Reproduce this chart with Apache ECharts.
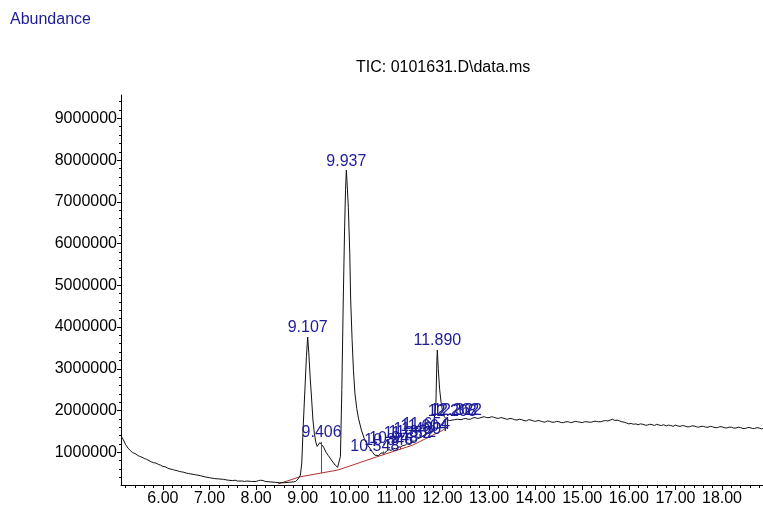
<!DOCTYPE html>
<html>
<head>
<meta charset="utf-8">
<script src="https://cdn.jsdelivr.net/npm/echarts@6/dist/echarts.min.js"></script>
<style>
  html, body { margin: 0; padding: 0; background: #fff; }
  #chart { width: 763px; height: 507px; }
</style>
</head>
<body>
<div id="chart"></div>
<script>
// Total ion chromatogram: retention time (min) vs abundance (millions of counts)
const retentionTime = [
  5.12, 5.15, 5.20, 5.25, 5.30, 5.35, 5.40, 5.45, 5.50, 5.55, 5.60, 5.65, 5.70, 5.75, 5.80, 5.85, 5.90, 5.95,
  6.00, 6.05, 6.10, 6.15, 6.20, 6.25, 6.30, 6.35, 6.40, 6.45, 6.50, 6.55, 6.60, 6.70, 6.80, 6.90,
  7.00, 7.10, 7.20, 7.30, 7.40, 7.50, 7.55, 7.60, 7.70, 7.75, 7.80, 7.90,
  8.00, 8.05, 8.10, 8.15, 8.20, 8.30, 8.40, 8.50, 8.60, 8.70, 8.80, 8.85, 8.90, 8.95, 8.98,
  9.01, 9.05, 9.08, 9.107, 9.13, 9.16, 9.19, 9.22, 9.25, 9.28, 9.31, 9.34, 9.37, 9.406, 9.45,
  9.50, 9.55, 9.60, 9.65, 9.70, 9.75, 9.78, 9.81, 9.84, 9.87, 9.90, 9.92, 9.937, 9.95, 9.98,
  10.01, 10.03, 10.06, 10.09, 10.12, 10.16, 10.20, 10.26, 10.33, 10.40, 10.44, 10.50, 10.548, 10.59,
  10.63, 10.68, 10.72, 10.76, 10.80, 10.846, 10.90, 10.948,
  11.00, 11.05, 11.10, 11.15, 11.20, 11.252, 11.30, 11.352, 11.40, 11.460, 11.50, 11.55, 11.604, 11.654,
  11.70, 11.75, 11.80, 11.84, 11.86, 11.88, 11.890, 11.91, 11.94, 11.97,
  12.00, 12.04, 12.10, 12.15, 12.208, 12.262, 12.322,
  12.40, 12.45, 12.50, 12.55, 12.60, 12.65, 12.70, 12.75, 12.80, 12.85, 12.90, 12.95,
  13.00, 13.05, 13.10, 13.15, 13.20, 13.25, 13.30, 13.35, 13.40, 13.45, 13.50, 13.55, 13.60, 13.65, 13.70, 13.75, 13.80, 13.85, 13.90, 13.95,
  14.00, 14.05, 14.10, 14.15, 14.20, 14.25, 14.30, 14.35, 14.40, 14.45, 14.50, 14.55, 14.60, 14.65, 14.70, 14.75, 14.80, 14.85, 14.90, 14.95,
  15.00, 15.05, 15.10, 15.15, 15.20, 15.25, 15.30, 15.35, 15.40, 15.45, 15.50, 15.55, 15.60, 15.65, 15.70, 15.75, 15.80, 15.85, 15.90, 15.95,
  16.00, 16.05, 16.10, 16.15, 16.20, 16.25, 16.30, 16.35, 16.40, 16.45, 16.50, 16.55, 16.60, 16.65, 16.70, 16.75, 16.80, 16.85, 16.90, 16.95,
  17.00, 17.05, 17.10, 17.15, 17.20, 17.25, 17.30, 17.35, 17.40, 17.45, 17.50, 17.55, 17.60, 17.65, 17.70, 17.75, 17.80, 17.85, 17.90, 17.95,
  18.00, 18.05, 18.10, 18.15, 18.20, 18.25, 18.30, 18.35, 18.40, 18.45, 18.50, 18.55, 18.60, 18.65, 18.70, 18.75, 18.80, 18.85, 18.88
];
const abundanceM = [
  1.36, 1.30, 1.18, 1.10, 1.04, 0.99, 0.97, 0.93, 0.90, 0.88, 0.85, 0.83, 0.80, 0.77, 0.75, 0.74, 0.71, 0.69,
  0.66, 0.65, 0.62, 0.60, 0.59, 0.57, 0.56, 0.54, 0.53, 0.52, 0.50, 0.49, 0.48, 0.46, 0.44, 0.41,
  0.39, 0.37, 0.36, 0.35, 0.33, 0.32, 0.33, 0.31, 0.31, 0.30, 0.31, 0.30,
  0.30, 0.32, 0.33, 0.32, 0.30, 0.29, 0.28, 0.27, 0.27, 0.28, 0.29, 0.30, 0.36, 0.45, 0.74,
  1.60, 2.56, 3.30, 3.76, 3.40, 2.80, 2.30, 1.77, 1.45, 1.25, 1.14, 1.17, 1.23, 1.25, 1.12,
  1.00, 0.92, 0.84, 0.76, 0.69, 0.64, 0.62, 0.90, 2.50, 4.60, 6.40, 7.30, 7.76, 7.50, 6.87,
  5.77, 4.65, 3.70, 2.95, 2.42, 2.05, 1.80, 1.53, 1.30, 1.16, 1.10, 1.00, 0.93, 0.89,
  0.92, 0.98, 1.02, 0.98, 1.03, 1.07, 1.04, 1.10,
  1.08, 1.12, 1.13, 1.16, 1.17, 1.22, 1.21, 1.26, 1.27, 1.32, 1.32, 1.36, 1.41, 1.44,
  1.45, 1.49, 1.52, 1.55, 2.20, 3.20, 3.45, 3.00, 2.50, 2.20,
  2.00, 1.85, 1.78, 1.76, 1.77, 1.78, 1.79,
  1.78, 1.80, 1.81, 1.79, 1.79, 1.82, 1.83, 1.81, 1.82, 1.84, 1.85, 1.83,
  1.83, 1.85, 1.84, 1.82, 1.81, 1.83, 1.82, 1.80, 1.79, 1.81, 1.80, 1.78, 1.77, 1.79, 1.78, 1.76, 1.75, 1.78, 1.77, 1.75,
  1.74, 1.76, 1.75, 1.73, 1.72, 1.75, 1.74, 1.72, 1.72, 1.74, 1.73, 1.71, 1.71, 1.73, 1.73, 1.71, 1.72, 1.74, 1.73, 1.72,
  1.71, 1.73, 1.73, 1.72, 1.72, 1.74, 1.74, 1.73, 1.73, 1.75, 1.76, 1.75, 1.77, 1.79, 1.76, 1.77, 1.75, 1.73, 1.72, 1.70,
  1.68, 1.69, 1.67, 1.68, 1.66, 1.68, 1.67, 1.65, 1.65, 1.67, 1.66, 1.64, 1.67, 1.65, 1.64, 1.66, 1.63, 1.65, 1.64, 1.62,
  1.65, 1.63, 1.62, 1.64, 1.63, 1.61, 1.61, 1.63, 1.63, 1.61, 1.60, 1.62, 1.62, 1.60, 1.60, 1.62, 1.61, 1.59, 1.59, 1.61,
  1.61, 1.59, 1.58, 1.60, 1.60, 1.58, 1.58, 1.60, 1.59, 1.57, 1.57, 1.59, 1.59, 1.57, 1.57, 1.59, 1.58, 1.56, 1.57
];

// Integration baseline (red) and the peak drop lines
const baselineTime = [8.47, 8.94, 9.76, 10.59, 11.36, 12.01, 12.12];
const baselineM = [0.24, 0.41, 0.575, 0.89, 1.17, 1.53, 1.63];
const dropTime = [9.406, 10.72, 11.09];
const dropTopM = [1.25, 1.02, 1.13];
const dropBottomM = [0.50, 0.93, 1.07];

// Peak annotations (retention time labels)
const peakTime = [9.107, 9.406, 9.937, 10.548, 10.846, 10.948, 11.252, 11.352, 11.460, 11.604, 11.654, 11.890, 12.208, 12.262, 12.322];
const peakM = [3.76, 1.25, 7.76, 0.93, 1.07, 1.10, 1.22, 1.26, 1.32, 1.41, 1.44, 3.45, 1.77, 1.78, 1.79];
const peakName = ['9.107', '9.406', '9.937', '10.548', '10.846', '10.948', '11.252', '11.352', '11.460', '11.604', '11.654', '11.890', '12.208', '12.262', '12.322'];

// Axis ticks
const xTickValues = [6, 7, 8, 9, 10, 11, 12, 13, 14, 15, 16, 17, 18];
const yTickValues = [1000000, 2000000, 3000000, 4000000, 5000000, 6000000, 7000000, 8000000, 9000000];

const M = 1e6;
const X_MIN = 5.10, X_MAX = 18.88;
const Y_MIN = 215000, Y_MAX = 9560000;

// minor ticks every 0.2 min and every 200000 counts
const xMinor = [];
for (let i = 26; i <= 94; i++) xMinor.push(+(i * 0.2).toFixed(1));
const yMinor = [];
for (let i = 2; i <= 47; i++) yMinor.push(i * 200000);

const curve = retentionTime.map((t, i) => [t, abundanceM[i] * M]);
const baseline = baselineTime.map((t, i) => [t, baselineM[i] * M]);
const drops = dropTime.map((t, i) => [{ coord: [t, dropTopM[i] * M] }, { coord: [t, dropBottomM[i] * M] }]);
const peaks = peakTime.map((t, i) => ({ value: [t, peakM[i] * M], name: peakName[i] }));

const FONT = 'Liberation Sans, Arial, sans-serif';
const BLUE = '#1c1c98';

const chart = echarts.init(document.getElementById('chart'), null, { renderer: 'canvas' });
chart.setOption({
  animation: false,
  backgroundColor: '#ffffff',
  grid: { left: 121, right: 0, top: 95, bottom: 22, outerBoundsMode: 'none' },
  graphic: [
    { type: 'text', left: 10, top: 12, style: { text: 'Abundance', fill: BLUE, font: '16px ' + FONT } },
    { type: 'text', left: 356, top: 60, style: { text: 'TIC: 0101631.D\\data.ms', fill: '#000', font: '16px ' + FONT } }
  ],
  xAxis: [
    {
      type: 'value', min: X_MIN, max: X_MAX, position: 'bottom',
      axisLine: { show: true, onZero: false, lineStyle: { color: '#000', width: 1 } },
      axisTick: { show: true, length: 5, customValues: xTickValues, lineStyle: { color: '#000' } },
      axisLabel: { show: true, customValues: xTickValues, margin: 6, color: '#000', fontSize: 16, fontFamily: FONT,
                   formatter: v => v.toFixed(2) },
      splitLine: { show: false }
    },
    {
      type: 'value', min: X_MIN, max: X_MAX, position: 'bottom',
      axisLine: { show: false, onZero: false },
      axisTick: { show: true, length: 3, customValues: xMinor, lineStyle: { color: '#000' } },
      axisLabel: { show: false, customValues: xMinor },
      splitLine: { show: false }
    }
  ],
  yAxis: [
    {
      type: 'value', min: Y_MIN, max: Y_MAX, position: 'left',
      axisLine: { show: true, onZero: false, lineStyle: { color: '#000', width: 1 } },
      axisTick: { show: true, length: 4, customValues: yTickValues, lineStyle: { color: '#000' } },
      axisLabel: { show: true, customValues: yTickValues, margin: 4, color: '#000', fontSize: 16, fontFamily: FONT,
                   formatter: v => String(Math.round(v)) },
      splitLine: { show: false }
    },
    {
      type: 'value', min: Y_MIN, max: Y_MAX, position: 'left',
      axisLine: { show: false, onZero: false },
      axisTick: { show: true, length: 2, customValues: yMinor, lineStyle: { color: '#000' } },
      axisLabel: { show: false, customValues: yMinor },
      splitLine: { show: false }
    }
  ],
  series: [
    {
      name: 'baseline', type: 'line', xAxisIndex: 0, yAxisIndex: 0,
      data: baseline, showSymbol: false, symbol: 'none',
      lineStyle: { color: '#b03030', width: 1 }, z: 2,
      markLine: { symbol: 'none', silent: true, label: { show: false },
                  lineStyle: { color: '#b03030', width: 1, type: 'solid' }, data: drops }
    },
    {
      name: 'TIC', type: 'line', xAxisIndex: 0, yAxisIndex: 0,
      data: curve, showSymbol: false, symbol: 'none', sampling: null,
      lineStyle: { color: '#111', width: 1 }, z: 3
    },
    {
      name: 'peaks', type: 'scatter', xAxisIndex: 0, yAxisIndex: 0,
      data: peaks, symbolSize: 0, z: 4,
      itemStyle: { opacity: 1 },
      label: { show: true, position: 'top', distance: 1, color: BLUE, opacity: 1, fontSize: 16, fontFamily: FONT,
               formatter: p => p.name }
    }
  ]
});
</script>
</body>
</html>
